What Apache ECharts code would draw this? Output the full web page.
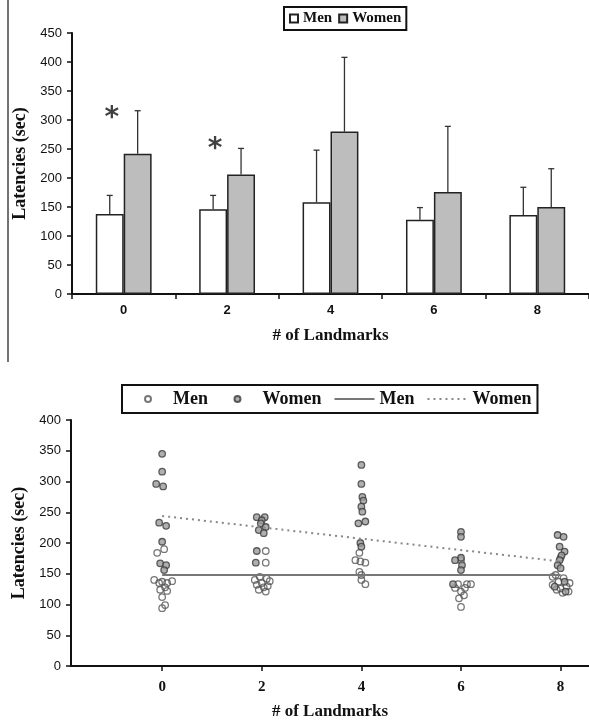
<!DOCTYPE html>
<html>
<head>
<meta charset="utf-8">
<script src="https://cdn.jsdelivr.net/npm/echarts@6/dist/echarts.min.js"></script>
<style>
html,body{margin:0;padding:0;background:#fff;}
#chart{width:589px;height:727px;}
</style>
</head>
<body>
<div id="chart"></div>
<script>
// ---------- Top chart: mean latencies with upper error bars ----------
const categories = ['0', '2', '4', '6', '8'];
const menMean = [138, 146, 158, 128, 136];
const womenMean = [242, 206, 280, 176, 150];
const menUpper = [170, 170, 248, 149, 184];
const womenUpper = [316, 251, 408, 289, 216];
const sigCategoryIndex = [0, 1];
const sigLevel = [314, 260];

// ---------- Bottom chart: individual latencies ----------
const landmarks = [0, 2, 4, 6, 8];
const menLatency = [
  [190, 184, 140, 138, 137, 135, 135, 128, 124, 122, 112, 99, 94],
  [187, 168, 145, 142, 140, 138, 135, 132, 130, 128, 124, 121],
  [184, 172, 170, 168, 153, 148, 140, 133],
  [172, 133, 133, 133, 127, 127, 121, 115, 110, 96],
  [176, 148, 145, 143, 137, 135, 132, 129, 126, 124, 121, 119]
];
const menJitter = [
  [0.04, -0.1, -0.16, 0.2, 0, 0.1, -0.06, 0.06, -0.04, 0.1, 0, 0.06, 0],
  [0.08, 0.08, -0.04, 0.1, -0.14, 0.16, 0, -0.1, 0.12, 0.04, -0.06, 0.08],
  [-0.04, -0.12, -0.02, 0.08, -0.04, 0, 0, 0.08],
  [0, -0.06, 0.12, 0.2, -0.12, 0.08, 0, 0.06, -0.04, 0],
  [0, -0.1, -0.16, 0.06, -0.04, 0.18, -0.16, 0.12, 0, -0.08, 0.16, 0.04]
];
const womenLatency = [
  [345, 316, 296, 292, 233, 228, 202, 167, 164, 156],
  [242, 242, 237, 232, 226, 221, 216, 187, 168],
  [327, 296, 275, 269, 259, 251, 235, 232, 200, 194],
  [218, 210, 176, 172, 164, 156, 133],
  [213, 210, 194, 186, 180, 172, 164, 159, 137, 129, 121]
];
const womenJitter = [
  [0, 0, -0.12, 0.02, -0.06, 0.08, 0, -0.04, 0.08, 0.04],
  [-0.1, 0.06, 0, -0.02, 0.08, -0.06, 0.04, -0.1, -0.12],
  [0, 0, 0.02, 0.04, 0, 0.02, 0.08, -0.06, -0.02, 0],
  [0, 0, 0, -0.12, 0.02, 0, -0.16],
  [-0.06, 0.06, -0.02, 0.08, 0.02, -0.02, -0.06, 0, 0.08, -0.12, 0.1]
];
const menFitX = [0, 8];
const menFitY = [148, 148];
const womenFitX = [0, 8];
const womenFitY = [244, 170];
const xTickValues = [0, 2, 4, 6, 8];

// ---------- build ----------
function pts(lat, jit) {
  const out = [];
  lat.forEach((arr, i) => arr.forEach((v, j) => out.push([landmarks[i] + jit[i][j], v])));
  return out;
}
const BAR_RATIO = 0.27;
function errorRender(sign) {
  return function (params, api) {
    const idx = api.value(0);
    const band = api.size([1, 0])[0];
    const off = sign * band * BAR_RATIO / 2;
    const p0 = api.coord([idx, api.value(1)]);
    const p1 = api.coord([idx, api.value(2)]);
    const x = p0[0] + off;
    const st = { stroke: '#333', lineWidth: 1.3 };
    return {
      type: 'group',
      children: [
        { type: 'line', shape: { x1: x, y1: p0[1], x2: x, y2: p1[1] }, style: st },
        { type: 'line', shape: { x1: x - 3, y1: p1[1], x2: x + 3, y2: p1[1] }, style: st }
      ]
    };
  };
}

const serifBold = { fontFamily: 'Liberation Serif', fontWeight: 'bold', color: '#111' };
const sansTick = { fontFamily: 'Liberation Sans', fontSize: 13, color: '#111' };
const nameFmt = n => n.split(' ')[0];
const bottomFmt = n => (n === 'Men pts' ? 'Men\u00a0\u00a0\u00a0' : nameFmt(n));
const hiddenDot = { opacity: 0 };

const option = {
  backgroundColor: '#fff',
  animation: false,
  graphic: [
    { type: 'line', shape: { x1: 8, y1: 0, x2: 8, y2: 362 }, style: { stroke: '#444', lineWidth: 1.5 } }
  ],
  legend: [
    {
      data: [{ name: 'Men', icon: 'rect' }, { name: 'Women', icon: 'rect' }],
      left: 284, top: 7,
      orient: 'horizontal',
      itemWidth: 8, itemHeight: 8, itemGap: 6,
      padding: [4, 5],
      borderColor: '#111', borderWidth: 2,
      formatter: nameFmt,
      textStyle: Object.assign({ fontSize: 15 }, serifBold),
      selectedMode: false
    },
    {
      data: [
        { name: 'Men pts' },
        { name: 'Women pts' },
        { name: 'Men fit', itemStyle: hiddenDot },
        { name: 'Women fit', itemStyle: hiddenDot }
      ],
      left: 122, top: 385,
      itemWidth: 40, itemHeight: 6, itemGap: 12,
      padding: [5, 6, 5, 22],
      borderColor: '#111', borderWidth: 2,
      formatter: bottomFmt,
      textStyle: Object.assign({ fontSize: 18 }, serifBold),
      selectedMode: false
    }
  ],
  grid: [
    { left: 72, top: 33, right: 0, height: 261 },
    { left: 71, top: 420, right: 0, height: 246 }
  ],
  xAxis: [
    {
      gridIndex: 0, type: 'category', data: categories,
      axisLine: { lineStyle: { color: '#111', width: 2 } },
      axisTick: { show: true, length: 5, lineStyle: { color: '#111', width: 1.5 } },
      axisLabel: Object.assign({ margin: 10, fontWeight: 'bold' }, sansTick),
      name: '# of Landmarks', nameLocation: 'middle', nameGap: 33,
      nameTextStyle: Object.assign({ fontSize: 17 }, serifBold)
    },
    {
      gridIndex: 1, type: 'value', min: -1.83, max: 8.57,
      splitLine: { show: false },
      axisLine: { onZero: false, lineStyle: { color: '#111', width: 2 } },
      axisTick: { show: true, length: 5, customValues: xTickValues, lineStyle: { color: '#111', width: 1.5 } },
      axisLabel: Object.assign({ customValues: xTickValues, margin: 14, fontSize: 15 }, serifBold),
      name: '# of Landmarks', nameLocation: 'middle', nameGap: 37,
      nameTextStyle: Object.assign({ fontSize: 17 }, serifBold)
    }
  ],
  yAxis: [
    {
      gridIndex: 0, type: 'value', min: 0, max: 450, interval: 50,
      splitLine: { show: false },
      axisLine: { show: true, onZero: false, lineStyle: { color: '#111', width: 2 } },
      axisTick: { show: true, length: 5, lineStyle: { color: '#111', width: 1.5 } },
      axisLabel: Object.assign({ margin: 10 }, sansTick),
      name: 'Latencies (sec)', nameLocation: 'middle', nameGap: 42, nameRotate: 90,
      nameTextStyle: Object.assign({ fontSize: 18 }, serifBold)
    },
    {
      gridIndex: 1, type: 'value', min: 0, max: 400, interval: 50,
      splitLine: { show: false },
      axisLine: { show: true, onZero: false, lineStyle: { color: '#111', width: 2 } },
      axisTick: { show: true, length: 5, lineStyle: { color: '#111', width: 1.5 } },
      axisLabel: Object.assign({ margin: 10 }, sansTick),
      name: 'Latencies (sec)', nameLocation: 'middle', nameGap: 42, nameRotate: 90,
      nameTextStyle: Object.assign({ fontSize: 18 }, serifBold)
    }
  ],
  series: [
    {
      name: 'Men', type: 'bar', xAxisIndex: 0, yAxisIndex: 0,
      data: menMean, barWidth: (BAR_RATIO * 100) + '%', barGap: '0%',
      itemStyle: { color: '#ffffff', borderColor: '#222', borderWidth: 1.5 }
    },
    {
      name: 'Women', type: 'bar', xAxisIndex: 0, yAxisIndex: 0,
      data: womenMean, barWidth: (BAR_RATIO * 100) + '%', barGap: '0%',
      itemStyle: { color: '#bdbdbd', borderColor: '#222', borderWidth: 1.5 }
    },
    {
      type: 'custom', xAxisIndex: 0, yAxisIndex: 0, z: 5,
      renderItem: errorRender(-1),
      data: menMean.map((m, i) => [i, m, menUpper[i]])
    },
    {
      type: 'custom', xAxisIndex: 0, yAxisIndex: 0, z: 5,
      renderItem: errorRender(1),
      data: womenMean.map((m, i) => [i, m, womenUpper[i]])
    },
    {
      type: 'scatter', xAxisIndex: 0, yAxisIndex: 0, symbol: 'circle', symbolSize: 1,
      itemStyle: { color: 'rgba(0,0,0,0)' }, z: 6,
      data: sigCategoryIndex.map((c, i) => [c, sigLevel[i]]),
      label: {
        show: true, formatter: '*', position: 'inside', offset: [-12, 7],
        fontFamily: 'DejaVu Sans', fontWeight: 'bold', fontSize: 28, color: '#111'
      }
    },
    {
      name: 'Men pts', type: 'scatter', xAxisIndex: 1, yAxisIndex: 1,
      data: pts(menLatency, menJitter), symbol: 'circle', symbolSize: 6.5,
      itemStyle: { color: 'rgba(255,255,255,0)', borderColor: '#555', borderWidth: 1.3 }
    },
    {
      name: 'Women pts', type: 'scatter', xAxisIndex: 1, yAxisIndex: 1,
      data: pts(womenLatency, womenJitter), symbol: 'circle', symbolSize: 6.5,
      itemStyle: { color: '#9b9b9b', borderColor: '#3a3a3a', borderWidth: 1.3 }
    },
    {
      name: 'Men fit', type: 'line', xAxisIndex: 1, yAxisIndex: 1, symbol: 'none',
      data: menFitX.map((x, i) => [x, menFitY[i]]),
      lineStyle: { color: '#777', width: 2, type: 'solid' }, itemStyle: { color: '#777' }
    },
    {
      name: 'Women fit', type: 'line', xAxisIndex: 1, yAxisIndex: 1, symbol: 'none',
      data: womenFitX.map((x, i) => [x, womenFitY[i]]),
      lineStyle: { color: '#888', width: 2, type: [2, 4] }, itemStyle: { color: '#888' }
    }
  ]
};

const chart = echarts.init(document.getElementById('chart'), null, { renderer: 'canvas' });
chart.setOption(option);
</script>
</body>
</html>
